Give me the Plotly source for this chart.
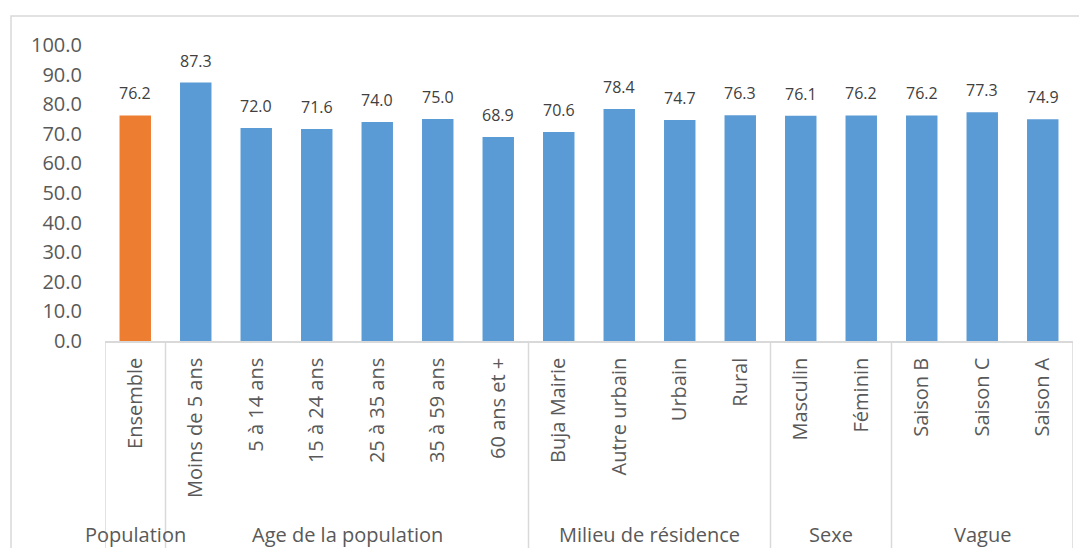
import plotly.graph_objects as go

categories = ["Ensemble", "Moins de 5 ans", "5 à 14 ans", "15 à 24 ans", "25 à 35 ans",
              "35 à 59 ans", "60 ans et +", "Buja Mairie", "Autre urbain", "Urbain", "Rural",
              "Masculin", "Féminin", "Saison B", "Saison C", "Saison A"]
values = [76.2, 87.3, 72.0, 71.6, 74.0, 75.0, 68.9, 70.6, 78.4, 74.7, 76.3,
          76.1, 76.2, 76.2, 77.3, 74.9]
groups = ["Population", "Age de la population", "Milieu de résidence", "Sexe", "Vague"]
group_sizes = [1, 6, 4, 2, 3]
y_ticks = [0, 10, 20, 30, 40, 50, 60, 70, 80, 90, 100]

BLUE = "#5B9BD5"
ORANGE = "#ED7D31"
TXT = "#595959"
FONT = "Open Sans"

colors = [ORANGE] + [BLUE] * (len(categories) - 1)

fig = go.Figure()
fig.add_trace(go.Bar(
    x=list(range(len(categories))), y=values,
    marker=dict(color=colors, line=dict(width=0)),
    width=0.52, hoverinfo="x+y",
))

for i, v in enumerate(values):
    fig.add_annotation(x=i, y=v, text=f"{v:.1f}", showarrow=False,
                       yanchor="bottom", yshift=9,
                       font=dict(family=FONT, size=16, color="#404040"))

# group separators and labels
line_color = "#D9D9D9"
bounds = [-0.5]
for s in group_sizes:
    bounds.append(bounds[-1] + s)
for b in bounds:
    fig.add_shape(type="line", xref="x", yref="paper", x0=b, x1=b, y0=0, y1=-0.74,
                  line=dict(color=line_color, width=1.5))
for g, a, b in zip(groups, bounds[:-1], bounds[1:]):
    fig.add_annotation(x=(a + b) / 2, y=-0.655, xref="x", yref="paper", text=g,
                       showarrow=False, yanchor="middle",
                       font=dict(family=FONT, size=20, color=TXT))

# chart frame
fig.add_shape(type="rect", xref="paper", yref="paper", x0=-0.0971, x1=1.05,
              y0=-1.0, y1=1.098, line=dict(color="#D9D9D9", width=1.5), layer="below")

fig.update_layout(
    width=1071, height=540,
    margin=dict(l=97, r=6, t=37, b=207),
    paper_bgcolor="white", plot_bgcolor="white",
    showlegend=False, bargap=0.48,
    font=dict(family=FONT, color=TXT),
    xaxis=dict(
        tickmode="array", tickvals=list(range(len(categories))), ticktext=categories,
        tickangle=-90, range=[-0.5, len(categories) - 0.5],
        showline=True, linecolor=line_color, linewidth=1.5,
        showgrid=False, ticks="", ticklabelstandoff=7,
        tickfont=dict(family=FONT, size=20, color=TXT),
    ),
    yaxis=dict(
        range=[0, 100], tickvals=y_ticks, ticktext=[f"{t:.1f}" for t in y_ticks],
        showgrid=False, zeroline=False, showline=False, ticks="",
        ticklabelstandoff=22,
        tickfont=dict(family=FONT, size=20, color=TXT),
    ),
)

fig.write_html("out.html")
